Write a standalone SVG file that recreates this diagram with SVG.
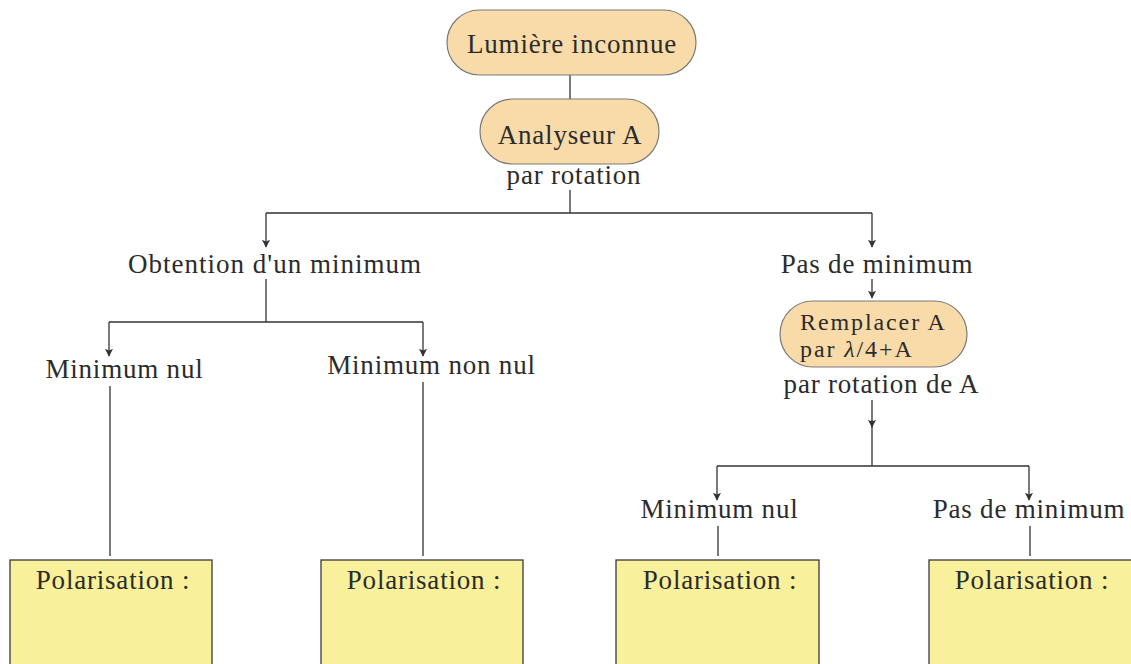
<svg xmlns="http://www.w3.org/2000/svg" width="1131" height="664" viewBox="0 0 1131 664">
<defs>
<style>
text{font-family:"Liberation Serif","Times New Roman",serif;font-size:27px;letter-spacing:0.8px;fill:#2b2b2b}
.m{text-anchor:middle}
.s{font-size:24px;letter-spacing:1.9px}
.pill{fill:#f9dbaa;stroke:#7a7a7a;stroke-width:1.2}
.box{fill:#f8f09a;stroke:#3a3a3a;stroke-width:1.3}
.c{fill:none;stroke:#333;stroke-width:1.3}
</style>
<marker id="ah" viewBox="0 0 10 10" refX="9" refY="5" markerWidth="8" markerHeight="8" markerUnits="userSpaceOnUse" orient="auto">
<path d="M0,0 L10,5 L0,10 L2,5 Z" fill="#333"/>
</marker>
</defs>
<rect width="1131" height="664" fill="#fff"/>
<g id="connectors">
<path class="c" d="M570,75 V99"/>
<path class="c" d="M570,190 V213 M266,213 H872"/>
<path class="c" d="M266,213 V247" marker-end="url(#ah)"/>
<path class="c" d="M872,213 V247" marker-end="url(#ah)"/>
<path class="c" d="M266,279 V322 M109,322 H423"/>
<path class="c" d="M109,322 V356" marker-end="url(#ah)"/>
<path class="c" d="M423,322 V356" marker-end="url(#ah)"/>
<path class="c" d="M110,386 V556"/>
<path class="c" d="M423,382 V556"/>
<path class="c" d="M872,279 V298" marker-end="url(#ah)"/>
<path class="c" d="M872,400 V427" marker-end="url(#ah)"/>
<path class="c" d="M872,420 V466 M717,466 H1029"/>
<path class="c" d="M717,466 V500" marker-end="url(#ah)"/>
<path class="c" d="M1029,466 V500" marker-end="url(#ah)"/>
<path class="c" d="M718,526 V556"/>
<path class="c" d="M1030,526 V556"/>
</g>
<g id="n-lumiere">
<rect class="pill" x="447" y="10" width="249" height="65" rx="32.5"/>
<text class="m" x="572" y="53">Lumière inconnue</text>
</g>
<g id="n-analyseur">
<rect class="pill" x="480" y="99" width="179" height="65" rx="32.5"/>
<text class="m" x="570" y="144">Analyseur A</text>
</g>
<g id="l-rotation">
<text class="m" x="574" y="184">par rotation</text>
</g>
<g id="n-obtention">
<text class="m" x="275" y="273" style="letter-spacing:1px">Obtention d'un minimum</text>
</g>
<g id="n-pasmin1">
<text class="m" x="877" y="273">Pas de minimum</text>
</g>
<g id="n-minnul1">
<text class="m" x="124.5" y="378">Minimum nul</text>
</g>
<g id="n-minnonnul">
<text class="m" x="431.5" y="374">Minimum non nul</text>
</g>
<g id="n-remplacer">
<rect class="pill" x="780" y="301" width="187" height="66" rx="33"/>
<text class="s" x="800" y="330">Remplacer A</text>
<text class="s" x="800" y="357">par <tspan font-style="italic">λ</tspan>/4+A</text>
</g>
<g id="l-rotation2">
<text class="m" x="881.5" y="393">par rotation de A</text>
</g>
<g id="n-minnul2">
<text class="m" x="719.5" y="518">Minimum nul</text>
</g>
<g id="n-pasmin2">
<text class="m" x="1029" y="518">Pas de minimum</text>
</g>
<g id="b1">
<rect class="box" x="10" y="560" width="202" height="110"/>
<text class="m" x="113" y="589">Polarisation :</text>
</g>
<g id="b2">
<rect class="box" x="321" y="560" width="202" height="110"/>
<text class="m" x="424" y="589">Polarisation :</text>
</g>
<g id="b3">
<rect class="box" x="616" y="560" width="203" height="110"/>
<text class="m" x="720" y="589">Polarisation :</text>
</g>
<g id="b4">
<rect class="box" x="929" y="560" width="210" height="110"/>
<text class="m" x="1032" y="589">Polarisation :</text>
</g>
</svg>
